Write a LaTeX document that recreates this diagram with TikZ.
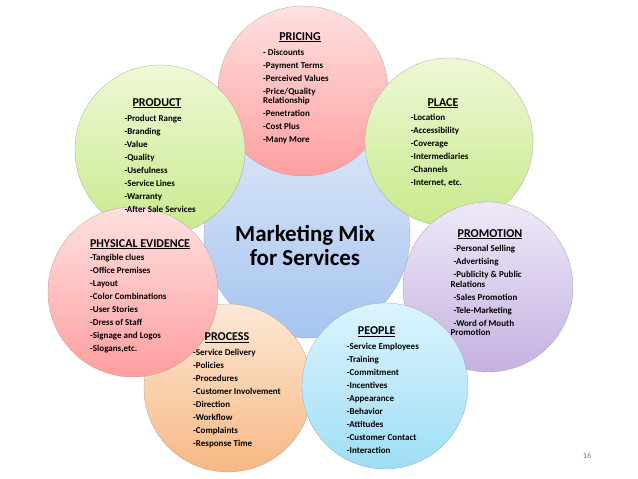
\documentclass[tikz,border=0pt]{standalone}
\usepackage{fontspec}
\setmainfont{Carlito}
\begin{document}
\begin{tikzpicture}[x=1pt,y=-1pt,
  ring/.style={circle, inner sep=0pt, minimum size=#1, draw=black!40, line width=0.35pt, dash pattern=on 1pt off 0.6pt},
  redfill/.style={top color=red!12, bottom color=red!38},
  greenfill/.style={top color={rgb,255:red,238;green,248;blue,214}, bottom color={rgb,255:red,200;green,234;blue,140}},
  bluefill/.style={top color={rgb,255:red,218;green,230;blue,248}, bottom color={rgb,255:red,166;green,196;blue,240}},
  purplefill/.style={top color={rgb,255:red,238;green,232;blue,247}, bottom color={rgb,255:red,198;green,178;blue,226}},
  orangefill/.style={top color={rgb,255:red,253;green,232;blue,214}, bottom color={rgb,255:red,247;green,184;blue,132}},
  cyanfill/.style={top color={rgb,255:red,220;green,244;blue,253}, bottom color={rgb,255:red,158;green,222;blue,245}},
  ttl/.style={anchor=base, inner sep=0pt, font=\fontsize{12}{14}\selectfont\bfseries},
  items/.style={anchor=north west, inner sep=0pt, align=left, font=\fontsize{9}{13}\selectfont\bfseries}]
\fill[white] (0,0) rectangle (638,479);
\useasboundingbox (0,0) rectangle (638,479);
% circles
\node[ring=206pt, bluefill] (center) at (307,235) {};
\node[ring=170pt, redfill] (pricing) at (303,91) {};
\node[ring=170pt, greenfill] (product) at (160,150) {};
\node[ring=168pt, greenfill] (place) at (449,142) {};
\node[ring=170pt, purplefill] (promotion) at (488,287) {};
\node[ring=168pt, orangefill] (process) at (228,388) {};
\node[ring=170pt, redfill] (physical) at (133,292) {};
\node[ring=166pt, cyanfill] (people) at (385,386) {};
% centre text
\node[inner sep=0pt, align=center, font=\fontsize{23}{24}\selectfont\bfseries] (mmtext) at (305,245) {Marketing Mix\\for Services};
% pricing
\node[ttl] (pricingT) at (300,40) {\underline{PRICING}};
\node[items] (pricingL) at (263,48.5) {- Discounts\\-Payment Terms\\-Perceived Values\\-Price/Quality\\[-3.5pt]Relationship\\-Penetration\\-Cost Plus\\-Many More};
% product
\node[ttl] (productT) at (157,106) {\underline{PRODUCT}};
\node[items] (productL) at (124.3,115) {-Product Range\\-Branding\\-Value\\-Quality\\-Usefulness\\-Service Lines\\-Warranty\\-After Sale Services};
% place
\node[ttl] (placeT) at (443,106) {\underline{PLACE}};
\node[items] (placeL) at (410.7,113.7) {-Location\\-Accessibility\\-Coverage\\-Intermediaries\\-Channels\\-Internet, etc.};
% physical evidence
\node[ttl] (physicalT) at (140,247) {\underline{PHYSICAL EVIDENCE}};
\node[items] (physicalL) at (90,254.3) {-Tangible clues\\-Office Premises\\-Layout\\-Color Combinations\\-User Stories\\-Dress of Staff\\-Signage and Logos\\-Slogans,etc.};
% promotion
\node[ttl] (promotionT) at (490,237) {\underline{PROMOTION}};
\node[items] (promotionL) at (450.5,245.3) {\hspace*{3pt}-Personal Selling\\\hspace*{3pt}-Advertising\\\hspace*{3pt}-Publicity \& Public\\[-3.5pt]Relations\\\hspace*{3pt}-Sales Promotion\\\hspace*{3pt}-Tele-Marketing\\\hspace*{3pt}-Word of Mouth\\[-3.5pt]Promotion};
% process
\node[ttl] (processT) at (227,340.5) {\underline{PROCESS}};
\node[items] (processL) at (193,349.3) {-Service Delivery\\-Policies\\-Procedures\\-Customer Involvement\\-Direction\\-Workflow\\-Complaints\\-Response Time};
% people
\node[ttl] (peopleT) at (376.7,334.5) {\underline{PEOPLE}};
\node[items] (peopleL) at (346.7,342.7) {-Service Employees\\-Training\\-Commitment\\-Incentives\\-Appearance\\-Behavior\\-Attitudes\\-Customer Contact\\-Interaction};
% page number
\node[inner sep=0pt, text=black!55, font=\fontsize{8}{9}\selectfont] (pagenum) at (587,456) {16};
\end{tikzpicture}
\end{document}
